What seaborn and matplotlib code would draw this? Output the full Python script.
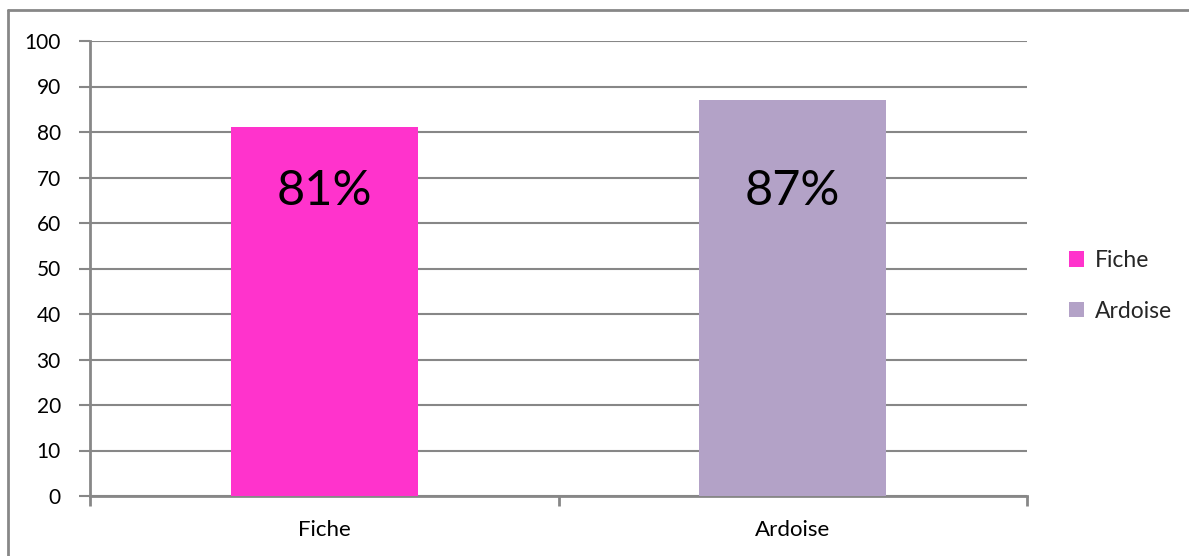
import matplotlib.pyplot as plt
import numpy as np
import pandas as pd
import seaborn as sns
from matplotlib.lines import Line2D
from matplotlib.patches import Patch

categories = ["Fiche", "Ardoise"]
values = [81, 87]
value_labels = ["81%", "87%"]
bar_colors = ["#FF33CC", "#B3A2C7"]
y_ticks = list(range(0, 101, 10))
label_y = 67

grey = "#878787"

sns.set_theme(style="white")
plt.rcParams["font.family"] = ["Lato", "DejaVu Sans"]

df = pd.DataFrame({"cat": categories, "val": values})

dpi = 100
fig = plt.figure(figsize=(11.89, 5.56), dpi=dpi)
ax = fig.add_axes([90 / 1189, 1 - 496 / 556, (1027 - 90) / 1189, (496 - 41) / 556])

sns.barplot(data=df, x="cat", y="val", hue="cat", palette=bar_colors,
            width=0.4, saturation=1, legend=False, ax=ax, zorder=3, linewidth=0)

for i, txt in enumerate(value_labels):
    ax.text(i, label_y, txt, ha="center", va="center", fontsize=35, color="black", zorder=4)

ax.set_xlim(-0.5, 1.5)
ax.set_ylim(0, 100)
ax.set_yticks(y_ticks)
ax.yaxis.grid(True, color=grey, linewidth=1.5, zorder=0)
ax.set_axisbelow(True)
ax.set_xlabel("")
ax.set_ylabel("")

for side in ["top", "right"]:
    ax.spines[side].set_visible(False)
for side in ["left", "bottom"]:
    ax.spines[side].set_color(grey)
    ax.spines[side].set_linewidth(2)

ax.tick_params(axis="y", direction="out", length=8, width=1.5, color=grey,
               labelsize=15, pad=13, left=True, labelcolor="black")
ax.tick_params(axis="x", which="major", length=0, labelsize=16, pad=17, labelcolor="black")
ax.set_xticks([-0.5, 0.5, 1.5], minor=True)
ax.tick_params(axis="x", which="minor", direction="out", length=7, width=2, color=grey, bottom=True)

handles = [Patch(facecolor=c, edgecolor="none") for c in bar_colors]
fig.legend(handles, categories, loc="center left", bbox_to_anchor=(1048 / 1189, 1 - 286 / 556),
           frameon=False, fontsize=16.5, handlelength=0.65, handleheight=0.65,
           handletextpad=0.5, labelspacing=1.3)

# outer chart border (left and top visible)
fig.add_artist(Line2D([8 / 1189, 8 / 1189], [0, 1 - 10 / 556], transform=fig.transFigure,
                      color=grey, linewidth=2))
fig.add_artist(Line2D([8 / 1189, 1], [1 - 10 / 556, 1 - 10 / 556], transform=fig.transFigure,
                      color=grey, linewidth=2))

fig.savefig("out.png", dpi=dpi)
